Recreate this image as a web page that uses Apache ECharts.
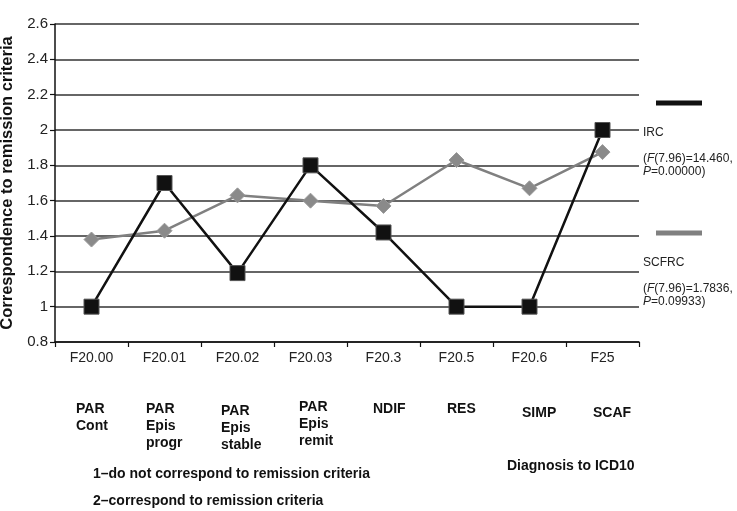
<!DOCTYPE html>
<html>
<head>
<meta charset="utf-8">
<script src="https://cdn.jsdelivr.net/npm/echarts@6/dist/echarts.min.js"></script>
<style>
html,body{margin:0;padding:0;background:#fff;}
#chart{width:737px;height:511px;}
</style>
</head>
<body>
<div id="chart"></div>
<script>
var categories = ['F20.00','F20.01','F20.02','F20.03','F20.3','F20.5','F20.6','F25'];
var diagnosisNames = ['PAR\nCont','PAR\nEpis\nprogr','PAR\nEpis\nstable','PAR\nEpis\nremit','NDIF','RES','SIMP','SCAF'];
var ircValues = [1.0, 1.70, 1.19, 1.80, 1.42, 1.0, 1.0, 2.0];
var scfrcValues = [1.38, 1.43, 1.63, 1.60, 1.57, 1.83, 1.67, 1.875];
var yTicks = [0.8, 1.0, 1.2, 1.4, 1.6, 1.8, 2.0, 2.2, 2.4, 2.6];
var yTitle = 'Correspondence to remission criteria';
var xTitle = 'Diagnosis to ICD10';
var notes = ['1\u2013do not correspond to remission criteria', '2\u2013correspond to remission criteria'];
var seriesNames = ['IRC', 'SCFRC'];
var stats = [['7.96', '14.460', '0.00000'], ['7.96', '1.7836', '0.09933']];

var chart = echarts.init(document.getElementById('chart'), null, {renderer: 'canvas'});
var FONT = 'Liberation Sans, Arial, sans-serif';

var namePos = [[76,401],[146,401],[221,403],[299,399],[373,401],[447,401],[522,405],[593,405]];
var graphics = [];
diagnosisNames.forEach(function(n, i){
  graphics.push({type:'text', left:namePos[i][0], top:namePos[i][1],
    style:{text:n, font:'bold 14px ' + FONT, fill:'#111', lineHeight:17}});
});
graphics.push({type:'text', left:507, top:459, style:{text:xTitle, font:'bold 14px ' + FONT, fill:'#111'}});
graphics.push({type:'text', left:93, top:467, style:{text:notes[0], font:'bold 14px ' + FONT, fill:'#111'}});
graphics.push({type:'text', left:93, top:494, style:{text:notes[1], font:'bold 14px ' + FONT, fill:'#111'}});

var legendY = [103, 233];
var legendColors = ['#111', '#808080'];
[0,1].forEach(function(k){
  graphics.push({type:'rect', shape:{x:656, y:legendY[k]-2.5, width:46, height:5}, style:{fill:legendColors[k]}});
  graphics.push({type:'text', left:643, top:legendY[k]+24, style:{text:seriesNames[k], font:'12px ' + FONT, fill:'#222'}});
  graphics.push({type:'text', left:643, top:legendY[k]+50, style:{
    rich:{n:{font:'12px ' + FONT, fill:'#222', lineHeight:13}, i:{font:'italic 12px ' + FONT, fill:'#222', lineHeight:13}},
    text:'{n|(}{i|F}{n|(' + stats[k][0] + ')=' + stats[k][1] + ',}\n{i|P}{n|=' + stats[k][2] + ')}'
  }});
});

var option = {
  backgroundColor:'#fff',
  animation:false,
  grid:{left:55, right:98, top:24, bottom:169, containLabel:false, outerBoundsMode:'none'},
  xAxis:{
    type:'category', data:categories, boundaryGap:true,
    axisLine:{lineStyle:{color:'#111', width:1.5}},
    axisTick:{show:true, length:5, lineStyle:{color:'#111', width:1.2}},
    axisLabel:{color:'#222', fontSize:14, fontFamily:FONT, margin:9},
    splitLine:{show:false}
  },
  yAxis:{
    type:'value', min:0.8, max:2.6, interval:0.2,
    name:yTitle, nameLocation:'middle', nameGap:32,
    nameTextStyle:{fontSize:16.5, fontWeight:'bold', fontFamily:FONT, color:'#111'},
    axisLine:{show:true, lineStyle:{color:'#111', width:1.5}},
    axisTick:{show:true, length:5, lineStyle:{color:'#111', width:1.2}},
    axisLabel:{color:'#222', fontSize:15, fontFamily:FONT, margin:7,
      formatter:function(v){ var r = Math.round(v*10)/10; return String(r); }},
    splitLine:{show:true, lineStyle:{color:'#333', width:1.5}}
  },
  series:[
    {name:seriesNames[1], type:'line', data:scfrcValues, symbol:'diamond', symbolSize:15,
     lineStyle:{color:'#808080', width:2.5}, itemStyle:{color:'#8a8a8a', borderColor:'#9a9a9a', borderWidth:1}, z:2},
    {name:seriesNames[0], type:'line', data:ircValues, symbol:'rect', symbolSize:15,
     lineStyle:{color:'#111', width:2.5}, itemStyle:{color:'#111', borderColor:'#555', borderWidth:1}, z:3}
  ],
  graphic:graphics
};
chart.setOption(option);
</script>
</body>
</html>
